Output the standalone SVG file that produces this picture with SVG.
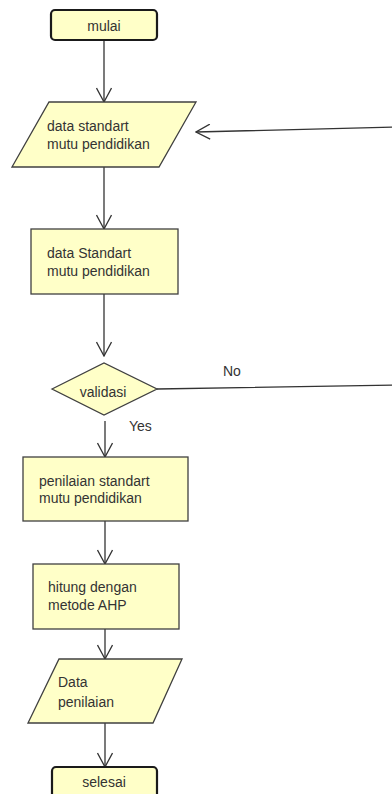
<svg xmlns="http://www.w3.org/2000/svg" width="392" height="794" viewBox="0 0 392 794">
<defs>
<style>
.shape{fill:#ffffc8;stroke:#404040;stroke-width:1.3}
.term{fill:#ffffc8;stroke:#1a1a1a;stroke-width:2.2}
.lbl{font-family:"Liberation Sans",Arial,sans-serif;font-size:14px;fill:#333}
.mid{text-anchor:middle}
.conn{fill:none;stroke:#333;stroke-width:1.3}
</style>
<marker id="arr" markerUnits="userSpaceOnUse" viewBox="0 0 16 16" refX="15" refY="8" markerWidth="16" markerHeight="16" orient="auto">
<path d="M1,0.5 L15,8 L1,15.5" fill="none" stroke="#333" stroke-width="1.3"/>
</marker>
</defs>
<g id="connectors">
<path class="conn" d="M104,40 L104,102" marker-end="url(#arr)"/>
<path class="conn" d="M104,167 L104,229" marker-end="url(#arr)"/>
<path class="conn" d="M104,294 L104,356" marker-end="url(#arr)"/>
<path class="conn" d="M105,421 L105,457" marker-end="url(#arr)"/>
<path class="conn" d="M105,521 L105,564" marker-end="url(#arr)"/>
<path class="conn" d="M105,629 L105,659" marker-end="url(#arr)"/>
<path class="conn" d="M105,723 L105,767" marker-end="url(#arr)"/>
<path class="conn" d="M157,389 L396,385 L396,127 L196,132" marker-end="url(#arr)"/>
<text class="lbl" x="223" y="376">No</text>
<text class="lbl" x="129" y="431">Yes</text>
</g>
<g id="mulai">
<rect class="term" x="51" y="10" width="106" height="30" rx="4"/>
<text class="lbl mid" x="104" y="31">mulai</text>
</g>
<g id="input1">
<polygon class="shape" points="49,102 196,102 159,167 12,167"/>
<text class="lbl" x="47" y="131">data standart</text>
<text class="lbl" x="47" y="149">mutu pendidikan</text>
</g>
<g id="proses1">
<rect class="shape" x="31" y="229" width="147" height="65"/>
<text class="lbl" x="47" y="258">data Standart</text>
<text class="lbl" x="47" y="276">mutu pendidikan</text>
</g>
<g id="validasi">
<polygon class="shape" points="52,389 104,363 157,389 104,415"/>
<text class="lbl mid" x="103" y="397">validasi</text>
</g>
<g id="penilaian">
<rect class="shape" x="23" y="457" width="165" height="64"/>
<text class="lbl" x="39" y="486">penilaian standart</text>
<text class="lbl" x="39" y="503">mutu pendidikan</text>
</g>
<g id="hitung">
<rect class="shape" x="33" y="564" width="146" height="65"/>
<text class="lbl" x="48" y="592">hitung dengan</text>
<text class="lbl" x="48" y="610">metode AHP</text>
</g>
<g id="output">
<polygon class="shape" points="59,659 182,659 153,723 28,723"/>
<text class="lbl" x="58" y="687">Data</text>
<text class="lbl" x="58" y="707">penilaian</text>
</g>
<g id="selesai">
<rect class="term" x="52" y="767" width="105" height="31" rx="4"/>
<text class="lbl mid" x="104" y="787">selesai</text>
</g>
</svg>
